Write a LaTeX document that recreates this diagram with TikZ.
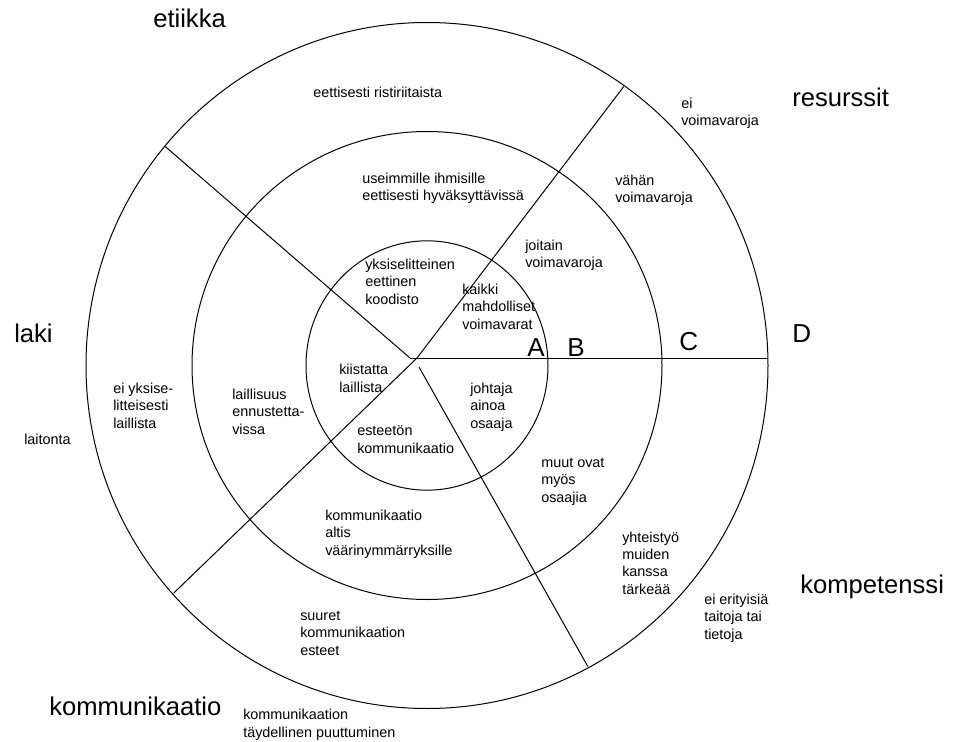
\documentclass[tikz,border=0pt]{standalone}
\usepackage{fontspec}
\setmainfont{Liberation Sans}
\begin{document}
\begin{tikzpicture}[x=0.75pt,y=-0.75pt,
  ring/.style={draw=black,line width=0.75pt},
  spoke/.style={draw=black,line width=0.75pt},
  small/.style={font=\fontsize{10.8}{13}\selectfont,inner sep=0pt,anchor=base west,align=left},
  big/.style={font=\fontsize{19.2}{23}\selectfont,inner sep=0pt,anchor=base west},
  letter/.style={font=\fontsize{19.5}{23}\selectfont,inner sep=0pt,anchor=base west}]
\useasboundingbox (0,0) rectangle (954,742);
\coordinate (O) at (427,365.5);
\coordinate (c1) at (410,358);
\coordinate (c2) at (417,358);
\coordinate (c3) at (419,367);
\coordinate (eR) at (767.9,358);
\coordinate (eUL) at (165.2,146.5);
\coordinate (eUR) at (623.8,86.5);
\coordinate (eLL) at (173.6,593.2);
\coordinate (eLR) at (587.8,666.5);
% rings
\draw[ring] (O) ellipse[x radius=90.75pt,y radius=93.5pt];
\draw[ring] (O) ellipse[x radius=176.25pt,y radius=175.5pt];
\draw[ring] (O) ellipse[x radius=255.75pt,y radius=257.25pt];
% spokes
\draw[spoke] (c1) -- (eR);
\draw[spoke] (c1) -- (eUL);
\draw[spoke] (c2) -- (eUR);
\draw[spoke] (c2) -- (eLL);
\draw[spoke] (c3) -- (eLR);
% big labels
\node[big] (etiikka) at (153,28) {etiikka};
\node[big] (resurssit) at (792,107) {resurssit};
\node[big] (laki) at (14,342) {laki};
\node[big] (kompetenssi) at (800,593) {kompetenssi};
\node[big] (kommunikaatio) at (49,715) {kommunikaatio};
% letters
\node[letter] (A) at (527,356) {A};
\node[letter] (B) at (567,356) {B};
\node[letter] (C) at (679,350) {C};
\node[letter] (D) at (792,342) {D};
% ethics (anchor = baseline of last line)
\node[small] (et3) at (313,98) {eettisesti ristiriitaista};
\node[small] (et2) at (362,200.5) {useimmille ihmisille\\eettisesti hyväksyttävissä};
\node[small] (et1) at (365,304) {yksiselitteinen\\eettinen\\koodisto};
% resources
\node[small] (re3) at (681,126) {ei\\voimavaroja};
\node[small] (re2) at (615,202.5) {vähän\\voimavaroja};
\node[small] (re1) at (525,267.5) {joitain\\voimavaroja};
\node[small] (re0) at (462,329) {kaikki\\mahdolliset\\voimavarat};
% law
\node[small] (la3) at (24,444) {laitonta};
\node[small] (la2) at (113,428) {ei yksise-\\litteisesti\\laillista};
\node[small] (la1) at (232,434) {laillisuus\\ennustetta-\\vissa};
\node[small] (la0) at (339,392) {kiistatta\\laillista};
% communication
\node[small] (ko0) at (357,453) {esteetön\\kommunikaatio};
\node[small] (ko1) at (325,555) {kommunikaatio\\altis\\väärinymmärryksille};
\node[small] (ko2) at (300,655) {suuret\\kommunikaation\\esteet};
\node[small] (ko3) at (243,737) {kommunikaation\\täydellinen puuttuminen};
% competence
\node[small] (kp0) at (470,428) {johtaja\\ainoa\\osaaja};
\node[small] (kp1) at (541,502) {muut ovat\\myös\\osaajia};
\node[small] (kp2) at (622,594) {yhteistyö\\muiden\\kanssa\\tärkeää};
\node[small] (kp3) at (704,639) {ei erityisiä\\taitoja tai\\tietoja};
\end{tikzpicture}
\end{document}
